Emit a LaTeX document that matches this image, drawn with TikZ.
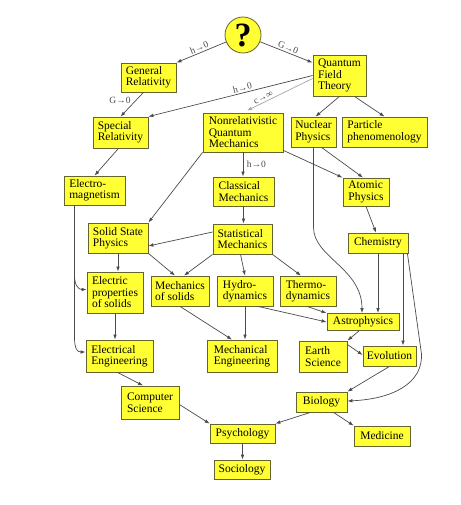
\documentclass[tikz,border=0pt]{standalone}
\usepackage{fontspec}
\setmainfont{Liberation Serif}
\usetikzlibrary{arrows.meta,calc}
\definecolor{boxfill}{RGB}{255,255,51}
\definecolor{boxline}{RGB}{100,100,50}
\definecolor{edgecol}{RGB}{75,75,75}
\definecolor{lightedge}{RGB}{165,165,165}
\begin{document}
\begin{tikzpicture}[x=1pt,y=-1pt,
  box/.style={draw=boxline, fill=boxfill, line width=0.8pt, inner sep=2pt, align=left,
    font=\fontsize{11.5}{11.5}\selectfont},
  sz/.style 2 args={minimum width=#1pt, minimum height=#2pt},
  arr/.style={draw=edgecol, line width=0.7pt, -{Latex[length=5pt,width=3.6pt]}},
  lightarr/.style={draw=lightedge, line width=0.7pt, -{Latex[length=5pt,width=3.6pt]}},
  lab/.style={font=\fontsize{9.5}{9.5}\selectfont, text=edgecol, inner sep=1.5pt}]
\useasboundingbox (0,0) rectangle (460,505);
\fill[white] (0,0) rectangle (460,505);

% nodes
\node[draw=boxline, fill=boxfill, line width=0.8pt, circle, minimum size=36pt, inner sep=0pt,
  font=\fontsize{34}{34}\selectfont\bfseries] (q) at (243,35) {?};
\node[box, sz={55}{29}] (gr) at (148.5,77.5) {General\\Relativity};
\node[box, sz={53}{41}] (qft) at (339.5,75.5) {Quantum\\Field\\Theory};
\node[box, sz={55}{31}] (sr) at (120.5,132.5) {Special\\Relativity};
\node[box, sz={80}{39}] (nqm) at (243,132.5) {Nonrelativistic\\Quantum\\Mechanics};
\node[box, sz={45}{30}] (np) at (313.5,132) {Nuclear\\Physics};
\node[box, sz={85}{30}] (pp) at (384.5,132) {Particle\\phenomenology};
\node[box, sz={61}{29}] (cm) at (243.5,191.5) {Classical\\Mechanics};
\node[box, sz={46}{28}] (ap) at (366,192) {Atomic\\Physics};
\node[box, sz={61}{29}] (em) at (94.5,190.5) {Electro-\\magnetism};
\node[box, sz={60}{30}] (ssp) at (118,238) {Solid State\\Physics};
\node[box, sz={59}{30}] (sm) at (242.5,239) {Statistical\\Mechanics};
\node[box, sz={60}{20}] (chem) at (378,243) {Chemistry};
\node[box, sz={56}{41}] (eps) at (115,292.5) {Electric\\properties\\of solids};
\node[box, sz={58}{30}] (mos) at (180,291) {Mechanics\\of solids};
\node[box, sz={56}{30}] (hyd) at (245,291) {Hydro-\\dynamics};
\node[box, sz={56}{30}] (thermo) at (308,291) {Thermo-\\dynamics};
\node[box, sz={72}{17}] (astro) at (363,322) {Astrophysics};
\node[box, sz={67}{32}] (ee) at (119.5,356) {Electrical\\Engineering};
\node[box, sz={70}{32}] (me) at (242,356) {Mechanical\\Engineering};
\node[box, sz={48}{31}] (es) at (323,356.5) {Earth\\Science};
\node[box, sz={53}{20}] (evo) at (389.5,356) {Evolution};
\node[box, sz={58}{33}] (cs) at (150,402.5) {Computer\\Science};
\node[box, sz={65}{19}] (psy) at (242.5,433.5) {Psychology};
\node[box, sz={56}{19}] (soc) at (242,469.5) {Sociology};
\node[box, sz={51}{20}] (bio) at (321.5,402) {Biology};
\node[box, sz={56}{20}] (med) at (382,436) {Medicine};

% connectors
\draw[arr] (q) -- (gr.north east) node[lab, midway, above, sloped] {h→0};
\draw[arr] (q) -- ([yshift=-8pt]qft.north west) node[lab, midway, above, sloped] {G→0};
\draw[arr] ([xshift=-5pt]gr.south) -- (sr.north) node[lab, pos=0.35, left=3pt] {G→0};
\draw[arr] (qft.west) -- (sr.north east) node[lab, pos=0.42, above, sloped] {h→0};
\draw[lightarr] ([yshift=-3pt]qft.west) -- ([xshift=4pt,yshift=2pt]nqm.north) node[lab, pos=0.72, above, sloped] {c→∞};
\draw[arr] (qft.south) -- ([xshift=2pt]np.north);
\draw[arr] ([xshift=15pt]qft.south) -- (pp.north);
\draw[arr] ([xshift=-2pt]sr.south) -- (em.north);
\draw[arr] (nqm.south) -- (nqm.south |- cm.north) node[lab, midway, right=2pt] {h→0};
\draw[arr] (nqm.south west) -- (ssp.north east);
\draw[arr] ([yshift=2pt]nqm.south east) -- (ap.north west);
\draw[arr] ([xshift=8pt]np.south) -- ([xshift=-3pt]ap.north);
\draw[arr] (np.south) -- ++(0,80) .. controls +(0,30) and +(0,-45) .. ([xshift=-1pt]astro.north);
\draw[arr] (ap.south) -- ([xshift=-2pt]chem.north);
\draw[arr] (cm.south) -- (cm.south |- sm.north);
\draw[arr] ([yshift=7pt]sm.west) -- ([yshift=-8pt]ssp.east);
\draw[arr] (sm.south west) -- ([xshift=4pt]mos.north);
\draw[arr] ([xshift=-2pt]sm.south) -- (hyd.north);
\draw[arr] (sm.south east) -- ([xshift=-7pt]thermo.north);
\draw[arr] (ssp.south) -- (ssp.south |- eps.north);
\draw[arr] (ssp.south east) -- ([xshift=-5pt]mos.north);
\draw[arr] ([xshift=-20pt]em.south) -- ++(0,70) .. controls +(0,10) and +(-8,0) .. ([yshift=3pt]eps.west);
\draw[arr] ([xshift=-20pt]em.south) -- ++(0,132) .. controls +(0,12) and +(-8,0) .. ([yshift=4pt]ee.west);
\draw[arr] (eps.south) -- (eps.south |- ee.north);
\draw[arr] (mos.south) -- ([xshift=-10pt]me.north);
\draw[arr] (hyd.south) -- (hyd.south |- me.north);
\draw[arr] ([xshift=13pt]hyd.south) -- (astro.west);
\draw[arr] ([xshift=-1pt]thermo.south) -- (astro.north west);
\draw[arr] (chem.south) -- (chem.south |- astro.north);
\draw[arr] ([xshift=25pt]chem.south) -- ([xshift=25pt]chem.south |- evo.north);
\draw[arr] ([xshift=-1pt]chem.south east) -- ++(14,100) .. controls +(2,30) and +(45,-2) .. ([yshift=1pt]bio.east);
\draw[arr] ([xshift=-4pt]astro.south) -- (es.north east);
\draw[arr] ([yshift=12pt]es.east) -- ([yshift=1pt]evo.west);
\draw[arr] (evo.south) -- (bio.north east);
\draw[arr] ([xshift=-2pt]ee.south) -- ([xshift=-7pt]cs.north);
\draw[arr] ([yshift=-2pt]cs.east) -- (psy.north west);
\draw[arr] ([xshift=-11pt]bio.south) -- (psy.north east);
\draw[arr] ([xshift=12pt]bio.south) -- (med.north west);
\draw[arr] (psy.south) -- (psy.south |- soc.north);
\end{tikzpicture}
\end{document}
